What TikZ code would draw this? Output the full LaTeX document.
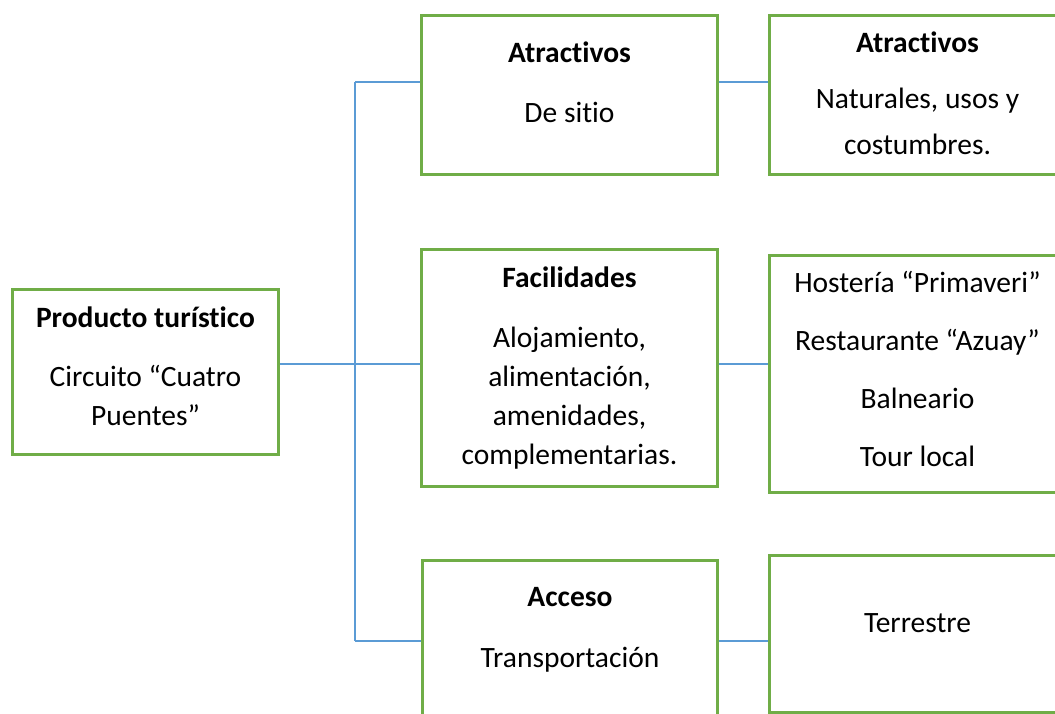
\documentclass[tikz,border=0pt]{standalone}
\usepackage{fontspec}
\setmainfont{Carlito}[Ligatures=NoCommon]
\usetikzlibrary{positioning}
\definecolor{boxgreen}{HTML}{70AD47}
\definecolor{linkblue}{HTML}{5B9BD5}
\newcommand{\topgap}{\rule{0pt}{26pt}}

\begin{document}
\begin{tikzpicture}[x=1pt, y=-1pt,
    box/.style={draw=boxgreen, line width=3pt, anchor=north west, inner sep=0pt},
    txt/.style={align=center, inner sep=0pt, font=\fontsize{29.5}{39}\selectfont},
    link/.style={draw=linkblue, line width=1.3pt}]
    \useasboundingbox (0,0) rectangle (1055,713);
    \clip (0,0) rectangle (1055,713);

    % boxes
    \node[box, minimum width=266pt, minimum height=165pt] at (11,288) (prod) {};
    \node[box, minimum width=296pt, minimum height=159pt] at (420,14) (atrac1) {};
    \node[box, minimum width=296pt, minimum height=159pt] at (768,14) (atrac2) {};
    \node[box, minimum width=296pt, minimum height=237pt] at (420,248) (facil) {};
    \node[box, minimum width=296pt, minimum height=237pt] at (768,254) (hoster) {};
    \node[box, minimum width=295pt, minimum height=201pt] at (421,559) (acceso) {};
    \node[box, minimum width=296pt, minimum height=157pt] at (768,554) (terres) {};

    % texts
    \node[txt, below=13pt of prod.north] (prodtxt)
        {\topgap\textbf{Producto turístico}\\[20pt] Circuito “Cuatro\\ Puentes”};
    \node[txt, below=22pt of atrac1.north] (atrac1txt)
        {\topgap\textbf{Atractivos}\\[21pt] De sitio};
    \node[txt, below=12pt of atrac2.north] (atrac2txt)
        {\topgap\textbf{Atractivos}\\[17pt] Naturales, usos y\\[7pt] costumbres.};
    \node[txt, below=13pt of facil.north] (faciltxt)
        {\topgap\textbf{Facilidades}\\[21pt] Alojamiento,\\ alimentación,\\ amenidades,\\ complementarias.};
    \node[txt, below=12pt of hoster.north] (hostertxt)
        {\topgap Hostería “Primaveri”\\[19pt] Restaurante “Azuay”\\[19pt] Balneario\\[19pt] Tour local};
    \node[txt, below=21pt of acceso.north] (accesotxt)
        {\topgap\textbf{Acceso}\\[22pt] Transportación};
    \node[txt, below=52pt of terres.north] (terrestxt)
        {\topgap Terrestre};

    % connectors
    \coordinate (trunktop) at (355,82);
    \coordinate (trunkmid) at (355,364);
    \coordinate (trunkbot) at (355,641);
    \draw[link] (trunktop) -- (trunkbot);
    \draw[link] (trunktop) -- (trunktop -| atrac1.west);
    \draw[link] (prod.east |- trunkmid) -- (trunkmid -| facil.west);
    \draw[link] (trunkbot) -- (trunkbot -| acceso.west);
    \draw[link] (atrac1.east |- trunktop) -- (trunktop -| atrac2.west);
    \draw[link] (facil.east |- trunkmid) -- (trunkmid -| hoster.west);
    \draw[link] (acceso.east |- trunkbot) -- (trunkbot -| terres.west);
\end{tikzpicture}
\end{document}
